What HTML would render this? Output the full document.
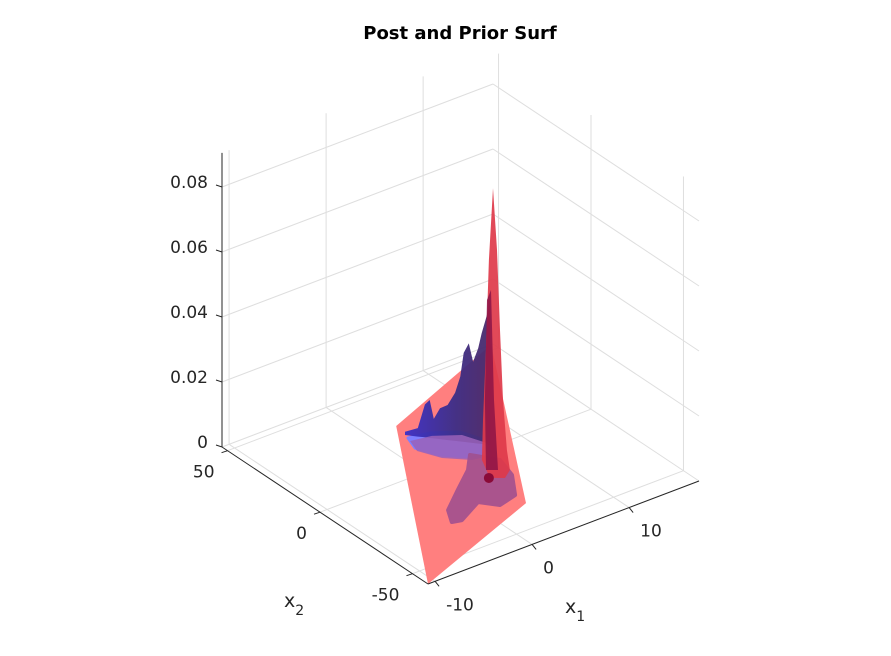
<!DOCTYPE html>
<html><head><meta charset="utf-8"><style>
body{margin:0;background:#fff}
svg{display:block;font-family:"DejaVu Sans","Liberation Sans",sans-serif}
</style></head><body>
<svg id="chart" width="891" height="656" viewBox="0 0 891 656" xmlns="http://www.w3.org/2000/svg">
<rect width="891" height="656" fill="#fff"/>
<text x="460" y="39" text-anchor="middle" font-size="18" font-weight="bold" fill="#000">Post and Prior Surf</text>
<g id="grid"></g>
<g id="marks"></g>
<g id="axes"></g>
</svg>
<script>
const x1Ticks=[-10,0,10];
const x2Ticks=[50,0,-50];
const zTicks=[0,0.02,0.04,0.06,0.08];
const zTickLabels=["0","0.02","0.04","0.06","0.08"];
const x1Range=[-10.73,17.2];
const x2Range=[-58.4,53];
const zRange=[0,0.0905];
// prior plane corners (x1,x2,z)
const priorX1=[-10.73,2.76,17.0,3.68];
const priorX2=[-58.4,29.6,53,-35.8];
const priorZ=[0,0,0,0];
// posterior ridge
const postX1=[2.45,3.14,3.53,3.78,4.01,4.34,4.75,5.16,5.44,5.62,5.9,6.13,6.41,6.59,6.87,7.05];
const postX2=[23.2,19.9,18.1,16.8,15.8,14.2,12.2,10.3,9.0,8.1,6.8,5.7,4.4,3.5,2.2,1.3];
const postZ=[.001,.0026,.0101,.0117,.006,.0095,.0108,.0148,.02,.0274,.0305,.025,.0293,.034,.0396,.0446];
// posterior brim at floor
const brimX1=[2.36,4.29,6.36,7.2,6.35,4.55,2.78,1.83];
const brimX2=[21.1,19.4,13.95,4.9,-2.3,-0.95,6.0,14.5];
// posterior tongue at floor
const tongueX1=[4.74,6.22,5.53,3.75,1.78,0.64,-2.2,-3.05,-2.12,0.5,3.13];
const tongueX2=[0.08,-8.4,-18.5,-29.5,-31.7,-25.8,-32,-31,-24.1,-15.6,-7.3];
// prior spike outline
const spikeX1=[7.67,8.08,8.39,8.7,7.66,5.89,4.77,3.79,5.04,6.64,6.94,7.25];
const spikeX2=[3,3,3,3,-4.6,-15.5,-18.7,-15.7,-4.8,3,3,3];
const spikeZ=[.0777,.0582,.0332,.0114,0,0,0,0,0,.0075,.0287,.056];
// dark inner spike
const innerX1=[7.46,7.77,5.1,4.32,6.84,7.05];
const innerX2=[3,3,-13.2,-10.8,3,3];
const innerZ=[.0466,.0124,0,0,.0135,.044];
const modeX1=[3.72], modeX2=[-15.5];

const A=[222,447], U=[271,-103], V=[206,137], ZS=3250;
function proj(x1,x2,z){
  const f=(x1-x1Range[0])/(x1Range[1]-x1Range[0]);
  const g=(x2Range[1]-x2)/(x2Range[1]-x2Range[0]);
  return [A[0]+f*U[0]+g*V[0], A[1]+f*U[1]+g*V[1]-z*ZS];
}
const NS="http://www.w3.org/2000/svg";
function el(tag,attrs,parent){const e=document.createElementNS(NS,tag);for(const k in attrs)e.setAttribute(k,attrs[k]);parent.appendChild(e);return e;}
function line(p,q,stroke,w,parent){return el('line',{x1:p[0],y1:p[1],x2:q[0],y2:q[1],stroke:stroke,'stroke-width':w},parent);}
const grid=document.getElementById('grid'), marks=document.getElementById('marks'), axes=document.getElementById('axes');
const GC="#dedede";
const [x1a,x1b]=x1Range,[x2a,x2b]=x2Range,zt=zRange[1];
zTicks.forEach(z=>{
  let l=line(proj(x1a,x2b,z),proj(x1b,x2b,z),GC,1,grid);
  
  
  l=line(proj(x1b,x2b,z),proj(x1b,x2a,z),GC,1,grid);
  
  
});
x1Ticks.forEach(v=>{
  let l=line(proj(v,x2b,0),proj(v,x2b,zt),GC,1,grid);
  
  
  l=line(proj(v,x2a,0),proj(v,x2b,0),GC,1,grid);
  
  
});
x2Ticks.forEach(v=>{
  let l=line(proj(x1b,v,0),proj(x1b,v,zt),GC,1,grid);
  
  
  l=line(proj(x1a,v,0),proj(x1b,v,0),GC,1,grid);
  
  
});
function poly(xs,ys,zs,attrs,name){
  const pts=xs.map((x,i)=>proj(x,ys[i],zs[i]).map(n=>n.toFixed(1)).join(',')).join(' ');
  const p=el('polygon',Object.assign({points:pts,'stroke-linejoin':'round'},attrs),marks);
  
  
  return p;
}
poly(priorX1,priorX2,priorZ,{fill:'#ff7f7f'},'prior-plane');
poly(brimX1,brimX2,brimX1.map(()=>0),{fill:'#7f7fff',stroke:'#7f7fff','stroke-width':3},'posterior-brim');
const rx=postX1.concat(postX1.slice().reverse());
const ry=postX2.concat(postX2.slice().reverse());
const rz=postZ.concat(postZ.map(()=>0).reverse());
const defs=el('defs',{},document.getElementById('chart'));
const lg=el('linearGradient',{id:'rg',x1:'0',y1:'0',x2:'1',y2:'0'},defs);
el('stop',{offset:'0','stop-color':'#3a30c8'},lg);
el('stop',{offset:'0.6','stop-color':'#3b2d85'},lg);
el('stop',{offset:'1','stop-color':'#4a2a6a'},lg);
poly(rx,ry,rz,{fill:'url(#rg)',opacity:0.95},'posterior-ridge');
poly(brimX1,brimX2,brimX1.map(()=>0),{fill:'#9a62b8',opacity:0.85,transform:'translate(2,3) scale(1)'},'posterior-brim-top');
poly(tongueX1,tongueX2,tongueX1.map(()=>0),{fill:'#a1508f',opacity:0.9,stroke:'#a1508f','stroke-width':4},'posterior-tongue');
poly(spikeX1,spikeX2,spikeZ,{fill:'#de3a4a',opacity:0.92},'prior-spike');
poly(innerX1,innerX2,innerZ,{fill:'#8c1446',opacity:0.85},'posterior-spike');
const dot=proj(modeX1[0],modeX2[0],0);
const d=el('circle',{cx:dot[0],cy:dot[1],r:5,fill:'#8a0a38'},marks);



const AC="#262626";
let ax=line(proj(x1a,x2b,0),proj(x1a,x2b,zt),AC,1,axes);


ax=line(proj(x1a,x2b,0),proj(x1a,x2a,0),AC,1,axes);


ax=line(proj(x1a,x2a,0),proj(x1b,x2a,0),AC,1,axes);


function txt(x,y,s,anchor,name){
  const t=el('text',{x:x,y:y,'text-anchor':anchor,'font-size':17,fill:'#262626'},axes);
  t.textContent=s;
  
  
  return t;
}
zTicks.forEach((z,i)=>{
  const p=proj(x1a,x2b,z);
  let l=line([p[0]-6,p[1]-2],p,AC,1,axes);
  
  
  txt(p[0]-14,p[1]+1,zTickLabels[i],'end','z-tick-label');
});
x2Ticks.forEach(v=>{
  const p=proj(x1a,v,0);
  let l=line([p[0]-6,p[1]+2],p,AC,1,axes);
  
  
  txt(p[0]-13,p[1]+27,String(v),'end','x2-tick-label');
});
x1Ticks.forEach(v=>{
  const p=proj(v,x2a,0);
  let l=line(p,[p[0]+4,p[1]+5],AC,1,axes);
  
  
  txt(p[0]+11,p[1]+29,String(v),'start','x1-tick-label');
});
const t2=txt(284,607,'x','start','x2-axis-title');t2.setAttribute('font-size','19');
const s2=el('tspan',{dy:8,'font-size':14},t2);s2.textContent='2';
const t1=txt(565,613,'x','start','x1-axis-title');t1.setAttribute('font-size','19');
const s1=el('tspan',{dy:8,'font-size':14},t1);s1.textContent='1';
</script>
</body></html>
